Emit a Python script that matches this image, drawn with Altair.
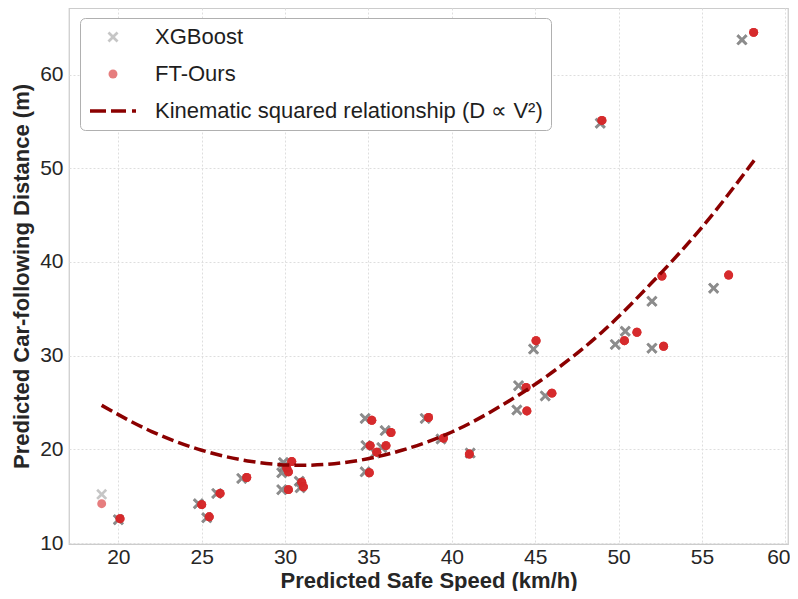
import altair as alt
import pandas as pd

FONT = "Liberation Sans"
MODELS = ["XGBoost", "FT-Ours", "Kinematic squared relationship (D \u221d V\u00b2)"]

# XGBoost predictions (speed km/h, distance m)
xgb_speed = [19.0, 20.0, 24.8, 25.3, 25.9, 27.4, 29.9, 29.9, 29.8, 29.8, 30.85, 30.9,
             34.8, 36.0, 34.85, 35.8, 35.4, 34.8, 38.4, 39.35, 41.1, 43.9, 44.0, 45.6,
             44.9, 48.9, 49.8, 50.4, 52.0, 52.0, 55.7, 57.4]
xgb_dist = [15.2, 12.5, 14.2, 12.7, 15.3, 16.9, 18.6, 18.1, 17.5, 15.7, 16.6, 15.9,
            23.3, 22.0, 20.4, 20.2, 19.6, 17.6, 23.3, 21.1, 19.6, 24.2, 26.8, 25.7,
            30.7, 54.8, 31.2, 32.6, 35.8, 30.8, 37.2, 63.7]
# FT-Ours predictions
ft_speed = [19.0, 20.1, 25.0, 25.45, 26.1, 27.7, 30.4, 30.1, 30.2, 30.2, 31.0, 31.1,
            35.2, 36.35, 35.1, 36.05, 35.5, 35.05, 38.6, 39.5, 41.05, 44.5, 44.45, 46.0,
            45.05, 49.0, 50.35, 51.1, 52.6, 52.7, 56.6, 58.1]
ft_dist = [14.2, 12.6, 14.1, 12.8, 15.3, 17.0, 18.7, 18.0, 17.6, 15.7, 16.5, 16.0,
           23.1, 21.8, 20.4, 20.4, 19.7, 17.5, 23.4, 21.2, 19.5, 24.1, 26.6, 26.0,
           31.6, 55.1, 31.6, 32.5, 38.5, 31.0, 38.6, 64.5]
# number of overlapping samples at each point
replicates = [1, 4, 4, 4, 4, 4, 4, 4, 4, 4, 4, 4,
              4, 4, 4, 4, 4, 4, 4, 4, 4, 4, 4, 4,
              4, 4, 4, 4, 4, 4, 4, 4]

# kinematic curve
curve_speed = [19.0, 22.0, 25.0, 28.0, 31.0, 34.0, 37.0, 40.0, 43.0, 46.0, 49.0, 52.0, 55.0, 58.2]
curve_dist = [24.7, 21.9, 19.9, 18.7, 18.3, 18.7, 19.9, 21.85, 24.7, 28.2, 32.5, 37.8, 43.7, 51.0]

x_ticks = [20, 25, 30, 35, 40, 45, 50, 55, 60]
y_ticks = [10, 20, 30, 40, 50, 60]

rows = []
for i in range(len(xgb_speed)):
    for _ in range(replicates[i]):
        rows.append({"model": MODELS[0], "speed": xgb_speed[i], "dist": xgb_dist[i]})
for i in range(len(ft_speed)):
    for _ in range(replicates[i]):
        rows.append({"model": MODELS[1], "speed": ft_speed[i], "dist": ft_dist[i]})
pts = pd.DataFrame(rows)
curve = pd.DataFrame({"speed": curve_speed, "dist": curve_dist})

X_PATH = ("M-0.65,-1L0,-0.35L0.65,-1L1,-0.65L0.35,0L1,0.65L0.65,1L0,0.35"
          "L-0.65,1L-1,0.65L-0.35,0L-1,-0.65Z")
DASH_PATH = ("M-2.3,-0.18L-0.7,-0.18L-0.7,0.18L-2.3,0.18Z"
             "M-0.2,-0.18L1.3,-0.18L1.3,0.18L-0.2,0.18Z"
             "M1.9,-0.18L2.3,-0.18L2.3,0.18L1.9,0.18Z")

x_enc = alt.X("speed:Q", title="Predicted Safe Speed (km/h)",
              scale=alt.Scale(domain=[17.04, 60.16], nice=False, zero=False),
              axis=alt.Axis(values=x_ticks, labelPadding=2, titleY=43,
                            titleBaseline="alphabetic",
                            labelOffset={"condition": {"test": "datum.value == 60", "value": -7}, "value": 0}))
y_enc = alt.Y("dist:Q", title="Predicted Car-following Distance (m)",
              scale=alt.Scale(domain=[9.9, 67.1], nice=False, zero=False),
              axis=alt.Axis(values=y_ticks, labelPadding=6, titleX=-41,
                            titleBaseline="alphabetic"))

leg = alt.Legend(title=None, orient="none", legendX=11, legendY=10, padding=8,
                 rowPadding=15, symbolOffset=14, labelOffset=31, labelFont=FONT,
                 labelFontSize=22, labelColor="#1e1e1e", labelLimit=800,
                 strokeColor="#b0b0b0", fillColor="#ffffff", cornerRadius=5,
                 symbolStrokeWidth=0)

enc = dict(
    x=x_enc, y=y_enc,
    color=alt.Color("model:N", scale=alt.Scale(domain=MODELS, range=["#808080", "#d62728", "#8b0000"]), legend=leg),
    shape=alt.Shape("model:N", scale=alt.Scale(domain=MODELS, range=[X_PATH, "circle", DASH_PATH]), legend=leg),
    size=alt.Size("model:N", scale=alt.Scale(type="ordinal", domain=MODELS, range=[121, 80, 400]), legend=leg),
    opacity=alt.Opacity("model:N", scale=alt.Scale(type="ordinal", domain=MODELS, range=[0.45, 0.6, 1.0]), legend=leg),
)

base = alt.Chart(pts)
xgb = base.transform_filter(alt.datum.model == MODELS[0]).mark_point(filled=True, strokeWidth=0).encode(**enc)
ft = base.transform_filter(alt.datum.model == MODELS[1]).mark_point(filled=True, strokeWidth=0).encode(**enc)
line = alt.Chart(curve).mark_line(color="#8b0000", strokeWidth=3.5, strokeDash=[12, 5],
                                  interpolate="monotone").encode(x=x_enc, y=y_enc)

chart = alt.layer(xgb, ft, line).properties(
    width=719, height=536, autosize="none",
    padding={"left": 61, "top": 0, "right": 2, "bottom": 47},
).configure_view(stroke="#cccccc", strokeWidth=1.25).configure_axis(
    labelFont=FONT, labelFontSize=21, labelColor="#262626",
    titleFont=FONT, titleFontSize=22, titleFontWeight="bold", titleColor="#262626",
    ticks=False, domain=False, grid=True, gridColor="#dedede", gridDash=[2, 2], gridWidth=1,
)

chart.save("out.html", embed_options={"renderer": "svg", "actions": False})
